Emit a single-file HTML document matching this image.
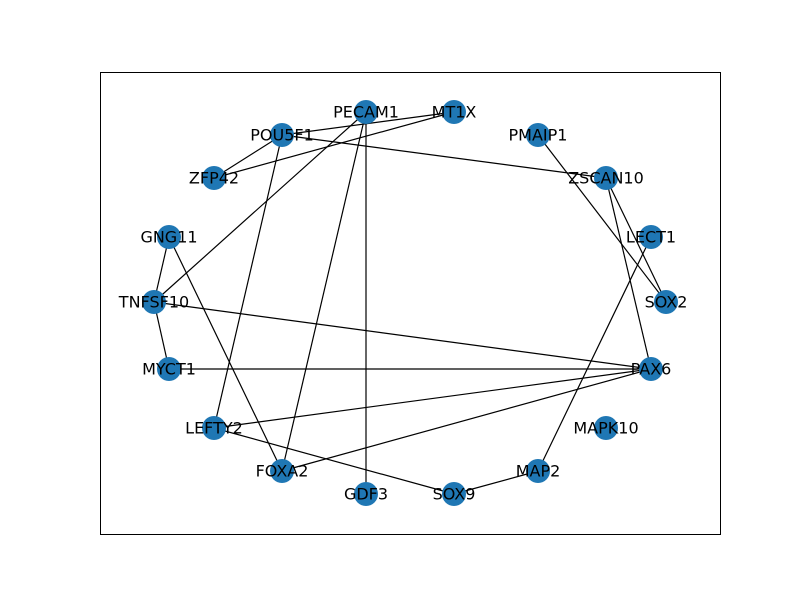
<!DOCTYPE html>
<html><head><meta charset="utf-8"><style>body{margin:0;background:#fff}</style></head><body>
<svg width="800" height="600" xmlns="http://www.w3.org/2000/svg">
<rect x="100.5" y="72.5" width="620" height="462" fill="none" stroke="#000" stroke-width="1"/>
<g stroke="#000" stroke-width="1.2">
<line x1="282" y1="135" x2="454" y2="112"/>
<line x1="214" y1="178" x2="282" y2="135"/>
<line x1="214" y1="178" x2="454" y2="112"/>
<line x1="366" y1="112" x2="154" y2="302"/>
<line x1="366" y1="112" x2="282" y2="471"/>
<line x1="366" y1="112" x2="366" y2="494"/>
<line x1="282" y1="135" x2="606" y2="178"/>
<line x1="282" y1="135" x2="214" y2="428"/>
<line x1="538" y1="135" x2="666" y2="302"/>
<line x1="606" y1="178" x2="666" y2="302"/>
<line x1="606" y1="178" x2="651" y2="369"/>
<line x1="651" y1="237" x2="538" y2="471"/>
<line x1="169" y1="237" x2="154" y2="302"/>
<line x1="169" y1="237" x2="282" y2="471"/>
<line x1="154" y1="302" x2="169" y2="369"/>
<line x1="154" y1="302" x2="651" y2="369"/>
<line x1="169" y1="369" x2="651" y2="369"/>
<line x1="214" y1="428" x2="651" y2="369"/>
<line x1="282" y1="471" x2="651" y2="369"/>
<line x1="214" y1="428" x2="454" y2="494"/>
<line x1="454" y1="494" x2="538" y2="471"/>
</g>
<g fill="#1f77b4">
<circle cx="366" cy="112" r="12"/><circle cx="454" cy="112" r="12"/>
<circle cx="282" cy="135" r="12"/><circle cx="538" cy="135" r="12"/>
<circle cx="214" cy="178" r="12"/><circle cx="606" cy="178" r="12"/>
<circle cx="169" cy="237" r="12"/><circle cx="651" cy="237" r="12"/>
<circle cx="154" cy="302" r="12"/><circle cx="666" cy="302" r="12"/>
<circle cx="169" cy="369" r="12"/><circle cx="651" cy="369" r="12"/>
<circle cx="214" cy="428" r="12"/><circle cx="606" cy="428" r="12"/>
<circle cx="282" cy="471" r="12"/><circle cx="538" cy="471" r="12"/>
<circle cx="366" cy="494" r="12"/><circle cx="454" cy="494" r="12"/>
</g>
<g font-family="DejaVu Sans, Liberation Sans, sans-serif" font-size="16" text-anchor="middle" dominant-baseline="central" fill="#000">
<text x="366" y="112">PECAM1</text><text x="454" y="112">MT1X</text>
<text x="282" y="135">POU5F1</text><text x="538" y="135">PMAIP1</text>
<text x="214" y="178">ZFP42</text><text x="606" y="178">ZSCAN10</text>
<text x="169" y="237">GNG11</text><text x="651" y="237">LECT1</text>
<text x="154" y="302">TNFSF10</text><text x="666" y="302">SOX2</text>
<text x="169" y="369">MYCT1</text><text x="651" y="369">PAX6</text>
<text x="214" y="428">LEFTY2</text><text x="606" y="428">MAPK10</text>
<text x="282" y="471">FOXA2</text><text x="538" y="471">MAP2</text>
<text x="366" y="494">GDF3</text><text x="454" y="494">SOX9</text>
</g>
</svg>
</body></html>
